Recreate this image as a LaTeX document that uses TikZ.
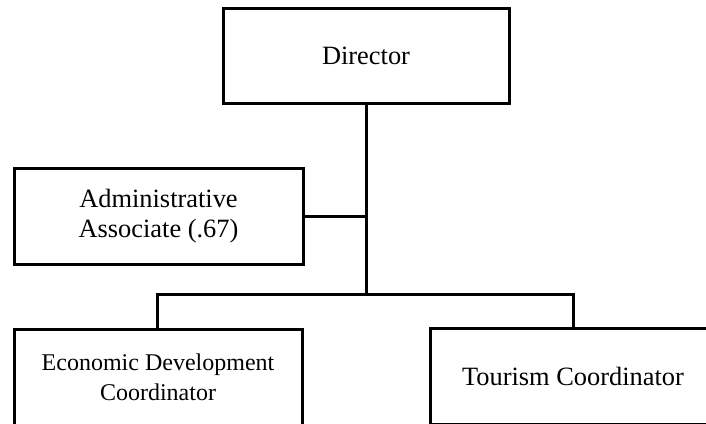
\documentclass[tikz,border=0pt]{standalone}
\usepackage{fontspec}
\setmainfont{Liberation Serif}
\begin{document}
\begin{tikzpicture}[x=1pt,y=-1pt,
  box/.style={draw=black,line width=3pt,fill=white,align=center,inner sep=0pt,
    font=\fontsize{26.4}{30}\selectfont},
  conn/.style={draw=black,line width=3pt}]
\useasboundingbox (0,0) rectangle (706,423);
\clip (0,0) rectangle (706,423);
\node[box,minimum width=286pt,minimum height=95pt] (dir) at (366,55.5) {Director};
\node[box,minimum width=289pt,minimum height=96pt] (adm) at (158.5,216) {Administrative\\Associate (.67)};
\node[box,minimum width=288pt,minimum height=96pt,font=\fontsize{24}{30}\selectfont] (eco) at (158,377) {Economic Development\\Coordinator};
\node[box,minimum width=286pt,minimum height=96pt] (tou) at (573,376) {Tourism Coordinator};
\coordinate (busL) at (157,294);
\coordinate (busR) at (573,294);
\draw[conn] (dir.south) -- (dir.south |- busL);
\draw[conn] (adm.east) -- (adm.east -| dir.south);
\draw[conn] (eco.north -| busL) -- (busL) -- (busR) -- (tou.north);
\end{tikzpicture}
\end{document}
